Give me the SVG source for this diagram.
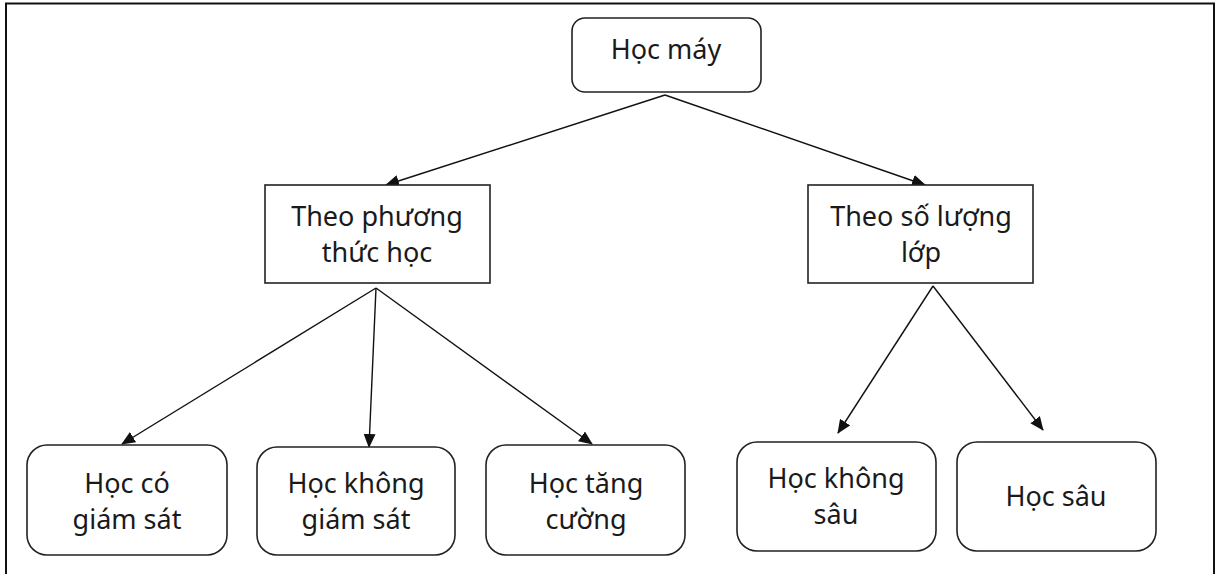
<svg xmlns="http://www.w3.org/2000/svg" width="1218" height="574" viewBox="0 0 1218 574">
  <style>
    .box { fill: #fff; stroke: #222; stroke-width: 1.6; }
    .lbl { font-family: "Noto Sans", "Open Sans", sans-serif; font-size: 27px; fill: #1a1a1a; text-anchor: middle; }
    .edge { stroke: #111; stroke-width: 1.4; fill: none; marker-end: url(#tip); }
  </style>
  <defs>
    <marker id="tip" viewBox="0 0 14 12" refX="13" refY="6" markerWidth="14" markerHeight="12" markerUnits="userSpaceOnUse" orient="auto">
      <path d="M0,0 L14,6 L0,12 Z" fill="#111"/>
    </marker>
  </defs>
  <rect x="0" y="0" width="1218" height="574" fill="#fff"/>
  <!-- page frame -->
  <path d="M6,580 L6,3.5 L1214,3.5 L1214,580" fill="none" stroke="#111" stroke-width="2"/>

  <g id="connectors">
    <line class="edge" x1="665" y1="95" x2="386" y2="185"/>
    <line class="edge" x1="665" y1="95" x2="925" y2="185"/>
    <line class="edge" x1="376" y1="288" x2="122" y2="444"/>
    <line class="edge" x1="376" y1="288" x2="369" y2="447"/>
    <line class="edge" x1="376" y1="288" x2="592" y2="444"/>
    <line class="edge" x1="933" y1="286" x2="838" y2="433"/>
    <line class="edge" x1="933" y1="286" x2="1043" y2="430"/>
  </g>

  <g id="hoc-may">
    <rect class="box" x="572" y="18" width="189" height="74" rx="13"/>
    <text class="lbl" x="666" y="59">Học máy</text>
  </g>
  <g id="theo-phuong-thuc">
    <rect class="box" x="265" y="185" width="225" height="98"/>
    <text class="lbl" x="377" y="226">Theo phương</text>
    <text class="lbl" x="377" y="262">thức học</text>
  </g>
  <g id="theo-so-luong-lop">
    <rect class="box" x="808" y="185" width="225" height="98"/>
    <text class="lbl" x="921" y="226">Theo số lượng</text>
    <text class="lbl" x="921" y="262">lớp</text>
  </g>
  <g id="co-giam-sat">
    <rect class="box" x="27" y="445" width="200" height="110" rx="20"/>
    <text class="lbl" x="127" y="493">Học có</text>
    <text class="lbl" x="127" y="529">giám sát</text>
  </g>
  <g id="khong-giam-sat">
    <rect class="box" x="257" y="447" width="198" height="108" rx="20"/>
    <text class="lbl" x="356" y="493">Học không</text>
    <text class="lbl" x="356" y="529">giám sát</text>
  </g>
  <g id="tang-cuong">
    <rect class="box" x="486" y="445" width="199" height="110" rx="20"/>
    <text class="lbl" x="586" y="493">Học tăng</text>
    <text class="lbl" x="586" y="529">cường</text>
  </g>
  <g id="khong-sau">
    <rect class="box" x="737" y="442" width="199" height="109" rx="20"/>
    <text class="lbl" x="836" y="488">Học không</text>
    <text class="lbl" x="836" y="524">sâu</text>
  </g>
  <g id="hoc-sau">
    <rect class="box" x="957" y="442" width="199" height="109" rx="20"/>
    <text class="lbl" x="1056" y="506">Học sâu</text>
  </g>
</svg>
